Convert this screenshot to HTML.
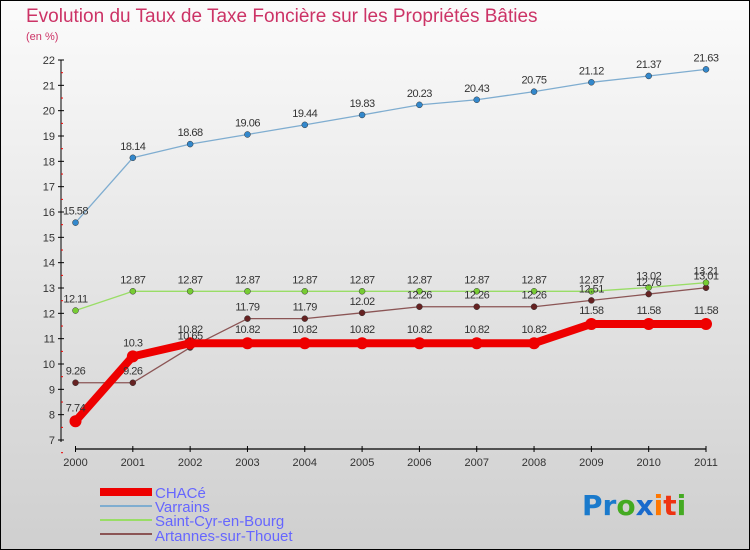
<!DOCTYPE html>
<html><head><meta charset="utf-8"><style>
body{margin:0;width:750px;height:550px;overflow:hidden;font-family:"Liberation Sans",sans-serif}
svg{display:block}
</style></head><body>
<svg width="750" height="550" id="c">
<defs><linearGradient id="bg" x1="0" y1="0" x2="0" y2="1"><stop offset="0" stop-color="#fbfbfb"/><stop offset="1" stop-color="#cfcfcf"/></linearGradient></defs>
<rect x="0.5" y="0.5" width="749" height="549" fill="url(#bg)" stroke="#000"/>
<text x="26" y="22" font-size="19" fill="#cc3366">Evolution du Taux de Taxe Foncière sur les Propriétés Bâties</text>
<text x="26" y="40" font-size="11" fill="#cc3366">(en %)</text>
<g id="axes"></g><g id="series"></g><g id="labels"></g>
<g>
<line x1="100" y1="492" x2="152" y2="492" stroke="#ee0000" stroke-width="8"/>
<text x="155" y="498" font-size="15" fill="#6666ff">CHACé</text>
<line x1="100" y1="506" x2="152" y2="506" stroke="#7fadd0" stroke-width="2"/>
<text x="155" y="512" font-size="15" fill="#6666ff">Varrains</text>
<line x1="100" y1="520" x2="152" y2="520" stroke="#99dd66" stroke-width="2"/>
<text x="155" y="526" font-size="15" fill="#6666ff">Saint-Cyr-en-Bourg</text>
<line x1="100" y1="534" x2="152" y2="534" stroke="#8b5555" stroke-width="2"/>
<text x="155" y="541" font-size="15" fill="#6666ff">Artannes-sur-Thouet</text>
</g>
<g font-size="28" font-weight="bold" font-family="'DejaVu Sans',sans-serif">
<text x="582" y="515"><tspan fill="#1a7acc">Pr</tspan><tspan fill="#44aa22">o</tspan><tspan fill="#1a6acc">x</tspan><tspan fill="#ff7700">i</tspan><tspan fill="#ee3311">t</tspan><tspan fill="#44aa22">i</tspan></text>
</g>
</svg>
<script>
const years=["2000","2001","2002","2003","2004","2005","2006","2007","2008","2009","2010","2011"];
const yTicks=[7,8,9,10,11,12,13,14,15,16,17,18,19,20,21,22];
const chace=[7.74,10.3,10.82,10.82,10.82,10.82,10.82,10.82,10.82,11.58,11.58,11.58];
const varrains=[15.58,18.14,18.68,19.06,19.44,19.83,20.23,20.43,20.75,21.12,21.37,21.63];
const saintCyr=[12.11,12.87,12.87,12.87,12.87,12.87,12.87,12.87,12.87,12.87,13.02,13.21];
const artannes=[9.26,9.26,10.65,11.79,11.79,12.02,12.26,12.26,12.26,12.51,12.76,13.01];
const NS="http://www.w3.org/2000/svg";
const X0=75.5,X1=706,Y0=440,Y1=60,ymin=7,ymax=22;
const xs=i=>X0+(X1-X0)*i/(years.length-1);
const ys=v=>Y0-(v-ymin)/(ymax-ymin)*(Y0-Y1);
function mk(t,a,p){const e=document.createElementNS(NS,t);for(const k in a)e.setAttribute(k,a[k]);p.appendChild(e);return e;}
const ax=document.getElementById('axes'),se=document.getElementById('series'),lb=document.getElementById('labels');
let l=mk('line',{x1:X0,y1:449,x2:X1,y2:449,stroke:'#000','stroke-width':1.2},ax);


years.forEach((y,i)=>{
 mk('line',{x1:xs(i),y1:446,x2:xs(i),y2:452,stroke:'#000'},ax);
 const t=mk('text',{x:xs(i),y:466,'font-size':11,fill:'#333','text-anchor':'middle'},ax);t.textContent=y;
 
 
});
l=mk('line',{x1:61,y1:Y1,x2:61,y2:Y0+2,stroke:'#000'},ax);


yTicks.forEach(v=>{
 mk('line',{x1:58,y1:ys(v),x2:64,y2:ys(v),stroke:'#000'},ax);
 mk('line',{x1:61,y1:ys(v)+12.7,x2:63,y2:ys(v)+12.7,stroke:'#e00'},ax);
 const t=mk('text',{x:55,y:ys(v)+4,'font-size':11,fill:'#333','text-anchor':'end'},ax);t.textContent=v;
 
 
});
function series(data,color,w,r,dot,name,dy){
 const p=mk('polyline',{points:data.map((v,i)=>xs(i)+','+ys(v)).join(' '),fill:'none',stroke:color,'stroke-width':w,'stroke-linejoin':'round'},se);
 
 
 data.forEach((v,i)=>{
  const c=mk('circle',{cx:xs(i),cy:ys(v),r:r,fill:dot,stroke:w>3?'none':'#333','stroke-width':0.5},se);
  
  
  const t=mk('text',{x:xs(i),y:ys(v)+dy,'font-size':11,fill:'#333','text-anchor':'middle','letter-spacing':'-0.5'},lb);t.textContent=v;
  
  
 });
}
series(artannes,'#8b5555',1.3,3,'#662222','artannes',-8);
series(saintCyr,'#99dd66',1.3,3,'#77cc33','saint-cyr',-8);
series(varrains,'#7fadd0',1.3,3,'#3388cc','varrains',-8);
series(chace,'#ee0000',8,6,'#ee0000','chace',-10);
</script>
</body></html>
